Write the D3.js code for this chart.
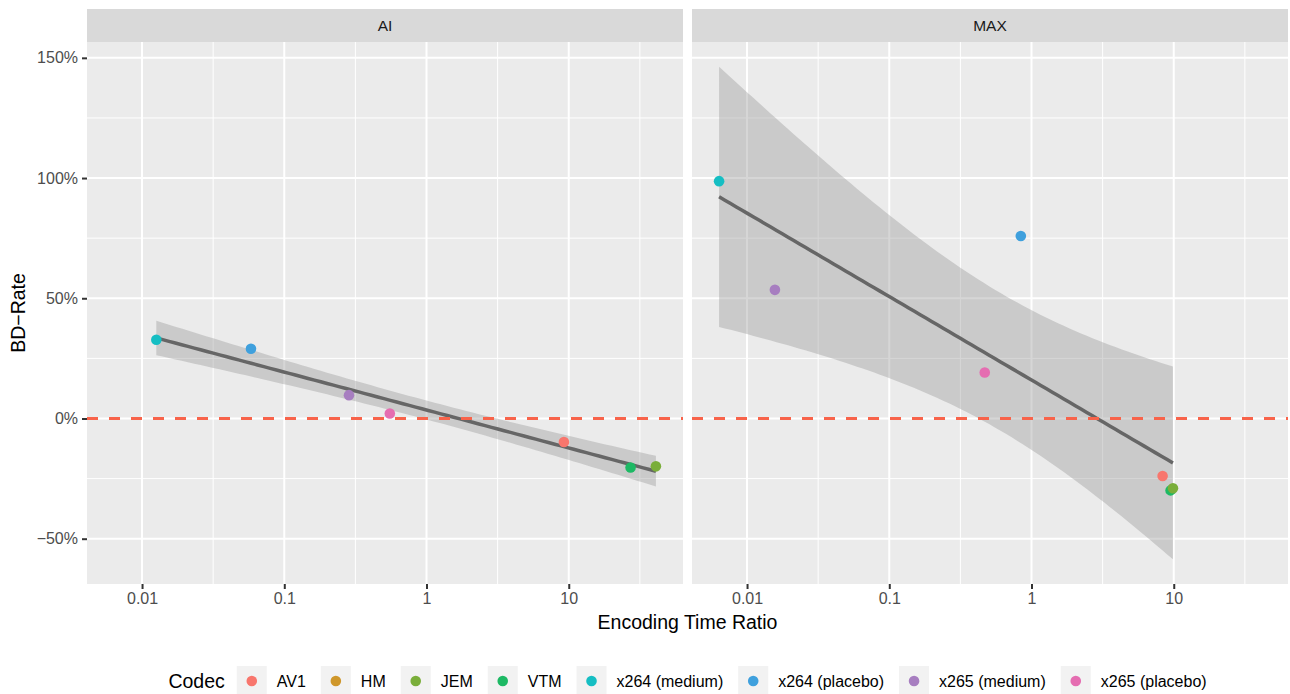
<!DOCTYPE html>
<meta charset="utf-8">
<html>
<head>
<script src="https://d3js.org/d3.v7.min.js"></script>
<style>
  body { margin: 0; background: #fff; }
  text { font-family: "Liberation Sans", Arial, sans-serif; }
</style>
</head>
<body>
<svg id="chart"></svg>
<script>
  // ---- data ----
  var codecs = ["AV1", "HM", "JEM", "VTM", "x264 (medium)", "x264 (placebo)", "x265 (medium)", "x265 (placebo)"]
  var codecColors = ["#F8766D", "#CF972B", "#7AAE3A", "#1DB964", "#15BEC3", "#3FA0DD", "#A77EC0", "#E56DB1"]
  var panels = ["AI", "MAX"]

  var aiCodec = ["x264 (medium)", "x264 (placebo)", "x265 (medium)", "x265 (placebo)", "AV1", "VTM", "JEM"]
  var aiTime  = [0.0126, 0.0583, 0.285, 0.552, 9.25, 27.2, 41.0]
  var aiRate  = [0.3275, 0.290, 0.097, 0.021, -0.098, -0.204, -0.199]

  var maxCodec = ["x264 (medium)", "x265 (medium)", "x264 (placebo)", "x265 (placebo)", "AV1", "VTM", "JEM"]
  var maxTime  = [0.00636, 0.0157, 0.841, 0.469, 8.35, 9.5, 9.87]
  var maxRate  = [0.987, 0.535, 0.759, 0.191, -0.239, -0.299, -0.290]

  var xTicks = [0.01, 0.1, 1, 10]
  var xTickLabels = ["0.01", "0.1", "1", "10"]
  var yTicks = [-0.5, 0, 0.5, 1, 1.5]
  var yTickLabels = ["\u221250%", "0%", "50%", "100%", "150%"]

  // ---- layout ----
  var W = 1290, H = 694
  var panelTop = 42, panelBottom = 584, stripTop = 9
  var panelLeft = [87, 692], panelW = 596
  var ph = panelBottom - panelTop

  var svg = d3.select("#chart").attr("width", W).attr("height", H)
  svg.append("rect").attr("width", W).attr("height", H).attr("fill", "#fff")

  // linear fit on log10(x) with 95% band, like geom_smooth(method = "lm")
  function lmFit(xs, ys) {
    var lx = xs.map(Math.log10), n = lx.length
    var mx = d3.mean(lx), my = d3.mean(ys)
    var sxx = d3.sum(lx, function(d) { return (d - mx) * (d - mx) })
    var sxy = d3.sum(lx, function(d, i) { return (d - mx) * (ys[i] - my) })
    var b = sxy / sxx, a = my - b * mx
    var sse = d3.sum(lx, function(d, i) { return Math.pow(ys[i] - (a + b * d), 2) })
    var s = Math.sqrt(sse / (n - 2))
    var t = 2.5706 // qt(0.975, df = 5)
    var lo = d3.min(lx), hi = d3.max(lx)
    return d3.range(80).map(function(i) {
      var x = lo + (hi - lo) * i / 79
      var f = a + b * x
      var se = s * Math.sqrt(1 / n + (x - mx) * (x - mx) / sxx)
      return { x: Math.pow(10, x), y: f, lo: f - t * se, hi: f + t * se }
    })
  }

  var panelData = [
    { name: "AI", codec: aiCodec, time: aiTime, rate: aiRate },
    { name: "MAX", codec: maxCodec, time: maxTime, rate: maxRate }
  ]
  panelData.forEach(function(p) { p.fit = lmFit(p.time, p.rate) })

  // shared scales (ggplot fixed facets, 5% expansion)
  var allTime = aiTime.concat(maxTime)
  var lxLo = Math.log10(d3.min(allTime)), lxHi = Math.log10(d3.max(allTime))
  var xPad = (lxHi - lxLo) * 0.05
  var x = d3.scaleLog().domain([Math.pow(10, lxLo - xPad), Math.pow(10, lxHi + xPad)]).range([0, panelW])

  var yVals = aiRate.concat(maxRate)
  panelData.forEach(function(p) { p.fit.forEach(function(d) { yVals.push(d.lo, d.hi) }) })
  var yLo = d3.min(yVals), yHi = d3.max(yVals), yPad = (yHi - yLo) * 0.05
  var y = d3.scaleLinear().domain([yLo - yPad, yHi + yPad]).range([ph, 0])

  var color = d3.scaleOrdinal().domain(codecs).range(codecColors)

  var xMinor = [-3, -2, -1, 0, 1].map(function(k) { return Math.pow(10, k + 0.5) })
    .filter(function(v) { return v > x.domain()[0] && v < x.domain()[1] })
  var yMinor = d3.range(yTicks.length - 1).map(function(i) { return (yTicks[i] + yTicks[i + 1]) / 2 })
  yMinor.push(yTicks[yTicks.length - 1] + 0.25)
  yMinor = yMinor.filter(function(v) { return v > y.domain()[0] && v < y.domain()[1] })

  panelData.forEach(function(p, pi) {
    var g = svg.append("g").attr("transform", "translate(" + panelLeft[pi] + "," + panelTop + ")")

    // strip
    svg.append("rect").attr("x", panelLeft[pi]).attr("y", stripTop)
      .attr("width", panelW).attr("height", panelTop - stripTop).attr("fill", "#D9D9D9")
    svg.append("text").attr("x", panelLeft[pi] + panelW / 2).attr("y", (stripTop + panelTop) / 2)
      .attr("dy", "0.35em").attr("text-anchor", "middle")
      .attr("font-size", 15.5).attr("fill", "#1A1A1A").text(p.name)

    // panel background + grid
    g.append("rect").attr("width", panelW).attr("height", ph).attr("fill", "#EBEBEB")
    g.selectAll(".ymin").data(yMinor).enter().append("line")
      .attr("x1", 0).attr("x2", panelW).attr("y1", y).attr("y2", y)
      .attr("stroke", "#fff").attr("stroke-width", 1)
    g.selectAll(".xmin").data(xMinor).enter().append("line")
      .attr("y1", 0).attr("y2", ph).attr("x1", x).attr("x2", x)
      .attr("stroke", "#fff").attr("stroke-width", 1)
    g.selectAll(".ymaj").data(yTicks).enter().append("line")
      .attr("x1", 0).attr("x2", panelW).attr("y1", y).attr("y2", y)
      .attr("stroke", "#fff").attr("stroke-width", 2)
    g.selectAll(".xmaj").data(xTicks).enter().append("line")
      .attr("y1", 0).attr("y2", ph).attr("x1", x).attr("x2", x)
      .attr("stroke", "#fff").attr("stroke-width", 2)

    // smooth ribbon + line
    g.append("path").datum(p.fit)
      .attr("fill", "#999999").attr("fill-opacity", 0.4)
      .attr("d", d3.area().x(function(d) { return x(d.x) })
        .y0(function(d) { return y(d.lo) }).y1(function(d) { return y(d.hi) }))
    g.append("path").datum(p.fit)
      .attr("fill", "none").attr("stroke", "#666666").attr("stroke-width", 3.5)
      .attr("d", d3.line().x(function(d) { return x(d.x) }).y(function(d) { return y(d.y) }))

    // zero line
    g.append("line").attr("x1", 0).attr("x2", panelW).attr("y1", y(0)).attr("y2", y(0))
      .attr("stroke", "#F8634A").attr("stroke-width", 3).attr("stroke-dasharray", "11,11")

    // points
    g.selectAll(".pt").data(p.time).enter().append("circle")
      .attr("cx", function(d) { return x(d) })
      .attr("cy", function(d, i) { return y(p.rate[i]) })
      .attr("r", 5.3)
      .attr("fill", function(d, i) { return color(p.codec[i]) })

    // x axis
    var xa = g.append("g").attr("transform", "translate(0," + ph + ")")
      .call(d3.axisBottom(x).tickValues(xTicks)
        .tickFormat(function(d, i) { return xTickLabels[i] }).tickSize(5).tickPadding(4))
    xa.select(".domain").remove()
    xa.selectAll("line").attr("stroke", "#333333").attr("stroke-width", 2)
    xa.selectAll("text").attr("font-size", 16).attr("fill", "#4D4D4D")

    // y axis only on first panel
    if (pi == 0) {
      var ya = g.append("g")
        .call(d3.axisLeft(y).tickValues(yTicks)
          .tickFormat(function(d, i) { return yTickLabels[i] }).tickSize(5).tickPadding(4))
      ya.select(".domain").remove()
      ya.selectAll("line").attr("stroke", "#333333").attr("stroke-width", 2)
      ya.selectAll("text").attr("font-size", 16).attr("fill", "#4D4D4D")
    }
  })

  // axis titles
  var midX = (panelLeft[0] + panelLeft[1] + panelW) / 2
  svg.append("text").attr("x", midX).attr("y", 629).attr("text-anchor", "middle")
    .attr("font-size", 19.5).attr("fill", "#000").text("Encoding Time Ratio")
  svg.append("text").attr("transform", "translate(25," + (panelTop + ph / 2) + ") rotate(-90)")
    .attr("text-anchor", "middle").attr("font-size", 19.5).attr("fill", "#000").text("BD\u2212Rate")

  // legend
  var legY = 681, keySize = 30
  var leg = svg.append("g")
  var title = leg.append("text").attr("x", 0).attr("y", legY).attr("dy", "0.35em")
    .attr("font-size", 19.5).attr("fill", "#000").text("Codec")
  var cx = title.node().getComputedTextLength() + 12
  codecs.forEach(function(c) {
    leg.append("rect").attr("x", cx).attr("y", legY - keySize / 2)
      .attr("width", keySize).attr("height", keySize).attr("fill", "#F2F2F2")
    leg.append("circle").attr("cx", cx + keySize / 2).attr("cy", legY).attr("r", 5.3).attr("fill", color(c))
    var t = leg.append("text").attr("x", cx + 40).attr("y", legY).attr("dy", "0.35em")
      .attr("font-size", 16).attr("fill", "#000").text(c)
    cx += 40 + t.node().getComputedTextLength() + 15
  })
  var legW = cx - 15
  leg.attr("transform", "translate(" + (midX - legW / 2) + ",0)")
</script>
</body>
</html>
